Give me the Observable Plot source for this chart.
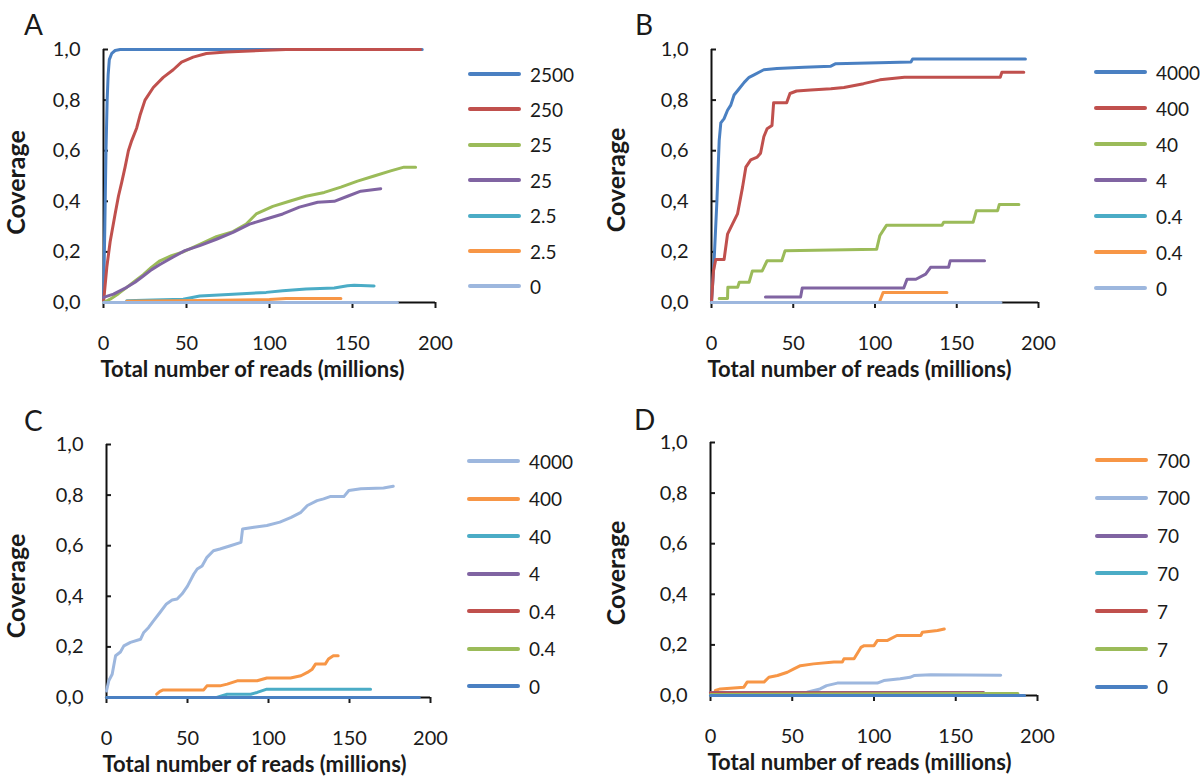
<!DOCTYPE html>
<html>
<head>
<meta charset="utf-8">
<script src="https://cdn.jsdelivr.net/npm/d3@7"></script>
<script src="https://cdn.jsdelivr.net/npm/@observablehq/plot@0.6"></script>
<style>
  html, body { margin: 0; padding: 0; background: #fff; }
  #root { position: relative; width: 1200px; height: 776px; background: #fff; font-family: Lato, "Open Sans", sans-serif; color: #1a1a1a; overflow: hidden; }
  .panel { position: absolute; }
  .letter { position: absolute; font-size: 28px; line-height: 1; color: #1a1a1a; }
  .leg { position: absolute; font-size: 19px; color: #1a1a1a; }
  .leg .row { position: absolute; display: flex; align-items: center; white-space: nowrap; }
  .leg .sw { width: 53px; height: 4px; border-radius: 2px; margin-right: 9px; }
</style>
</head>
<body>
<div id="root"></div>
<script>
// ---------- shared ticks / titles ----------
const xTicks = [0, 50, 100, 150, 200];
const yTicks = [0, 0.2, 0.4, 0.6, 0.8, 1.0];
const xTitle = "Total number of reads (millions)";
const yTitle = "Coverage";

// ---------- colours ----------
const cBlue = "#4a80c2", cRed = "#c0504d", cGreen = "#9bbb59", cPurple = "#8064a2",
      cCyan = "#4bacc6", cOrange = "#f79646", cLight = "#9db7de";

// ---------- Panel A ----------
const A_labels = ["2500", "250", "25", "25", "2.5", "2.5", "0"];
const A_colors = [cBlue, cRed, cGreen, cPurple, cCyan, cOrange, cLight];
const A_2500 = [[0,0],[0.8,0.3],[1.5,0.6],[2.2,0.8],[2.8,0.9],[3.5,0.96],[5,0.985],[7,0.996],[10,1],[192,1]];
const A_250 = [[0,0],[2,0.14],[4,0.24],[7,0.35],[9,0.42],[11,0.476],[13,0.535],[15,0.6],[17,0.64],[20,0.69],[22,0.74],[25,0.8],[30,0.85],[36,0.89],[42,0.92],[47,0.95],[54,0.97],[62,0.984],[74,0.99],[98,0.997],[110,1],[191,1]];
const A_25a = [[0,0],[4,0.013],[9,0.035],[14,0.06],[19,0.085],[24,0.11],[29,0.14],[34,0.165],[41,0.185],[48,0.2],[58,0.23],[68,0.26],[78,0.28],[86,0.31],[92,0.35],[97,0.365],[102,0.38],[112,0.4],[122,0.42],[133,0.435],[143,0.456],[153,0.48],[163,0.5],[173,0.52],[181,0.535],[188,0.535]];
const A_25b = [[0,0.02],[6,0.033],[14,0.06],[19,0.08],[24,0.105],[29,0.13],[34,0.15],[42,0.18],[49,0.205],[58,0.225],[68,0.25],[78,0.277],[88,0.31],[98,0.33],[108,0.35],[118,0.377],[129,0.396],[139,0.4],[147,0.42],[155,0.44],[167,0.45]];
const A_2_5a = [[14,0.007],[30,0.01],[48,0.013],[58,0.026],[78,0.033],[98,0.04],[108,0.046],[122,0.053],[139,0.057],[147,0.066],[151,0.068],[163,0.065]];
const A_2_5b = [[14,0.005],[60,0.008],[100,0.012],[110,0.016],[143,0.016]];
const A_0 = [[0,0],[177,0]];

// ---------- Panel B ----------
const B_labels = ["4000", "400", "40", "4", "0.4", "0.4", "0"];
const B_colors = [cBlue, cRed, cGreen, cPurple, cCyan, cOrange, cLight];
const B_4000 = [[0,0],[1.6,0.165],[3.3,0.4],[4.7,0.64],[5.7,0.71],[7.7,0.727],[9.8,0.76],[11.8,0.78],[13.8,0.82],[16.9,0.845],[20,0.87],[23,0.89],[26,0.9],[32,0.92],[40,0.925],[56.6,0.93],[73,0.934],[76,0.944],[122,0.951],[123,0.962],[192,0.962]];
const B_400 = [[0,0],[1.2,0.125],[2.6,0.17],[7.7,0.17],[9.8,0.27],[12.8,0.31],[15.9,0.35],[19,0.456],[21,0.535],[24,0.564],[28,0.575],[30,0.59],[32,0.655],[34,0.687],[37,0.7],[38,0.79],[46,0.79],[48,0.826],[52,0.836],[60.6,0.84],[73,0.845],[81,0.85],[93,0.865],[103,0.88],[118,0.89],[176.6,0.89],[177.6,0.91],[191,0.91]];
const B_40 = [[4.7,0.016],[9.8,0.016],[10,0.06],[16,0.06],[17,0.08],[23,0.08],[25,0.125],[31,0.125],[34,0.165],[43,0.165],[45,0.205],[101,0.21],[103,0.265],[107,0.305],[141,0.305],[142,0.317],[160,0.317],[162,0.363],[175,0.363],[176,0.387],[188,0.387]];
const B_4 = [[33,0.022],[54.5,0.022],[55.5,0.057],[117.6,0.057],[119.6,0.092],[125,0.092],[131,0.112],[134,0.139],[145,0.139],[146,0.165],[167,0.165]];
const B_0_4a = [[0,0],[163,0]];
const B_0_4b = [[103,0.007],[105,0.04],[144,0.04]];
const B_0 = [[0,0],[177,0]];

// ---------- Panel C ----------
const C_labels = ["4000", "400", "40", "4", "0.4", "0.4", "0"];
const C_colors = [cLight, cOrange, cCyan, cPurple, cRed, cGreen, cBlue];
const C_4000 = [[0,0.026],[1.4,0.066],[3.5,0.092],[5.6,0.165],[8.6,0.18],[10.7,0.204],[14.8,0.218],[21,0.23],[23,0.257],[26,0.277],[29,0.303],[33,0.336],[37,0.37],[40.5,0.385],[43.6,0.389],[46.7,0.41],[50,0.44],[53.9,0.488],[56,0.508],[59,0.52],[62,0.554],[66,0.58],[70,0.587],[76.5,0.6],[83,0.613],[84,0.666],[91,0.673],[99,0.68],[107,0.693],[114,0.712],[120,0.732],[124,0.759],[130,0.778],[134,0.785],[138,0.794],[146.5,0.794],[149.6,0.818],[157,0.825],[171,0.828],[177,0.835]];
const C_400 = [[31,0.013],[33,0.024],[35,0.03],[60,0.03],[62,0.046],[70,0.046],[74.5,0.053],[80.7,0.066],[93,0.066],[99,0.077],[113.6,0.077],[120,0.086],[124,0.099],[127,0.112],[129,0.132],[135,0.132],[137,0.152],[140,0.165],[143,0.165]];
const C_40 = [[0,0],[68,0],[74.5,0.013],[89,0.013],[93,0.02],[99,0.033],[163,0.033]];
const C_4 = [[0,0],[167,0]];
const C_0_4a = [[0,0],[192,0]];
const C_0_4b = [[0,0],[188,0]];
const C_0 = [[0,0],[193,0]];

// ---------- Panel D ----------
const D_labels = ["700", "700", "70", "70", "7", "7", "0"];
const D_colors = [cOrange, cLight, cPurple, cCyan, cRed, cGreen, cBlue];
const D_700a = [[3,0.02],[6,0.026],[20.4,0.033],[22.4,0.053],[32.7,0.053],[35.7,0.072],[41,0.079],[47,0.092],[51,0.105],[55,0.118],[63,0.125],[75.5,0.132],[80.6,0.132],[81.6,0.145],[87.8,0.145],[92,0.19],[94,0.197],[100,0.197],[102,0.217],[108,0.217],[114,0.237],[128.6,0.237],[129.6,0.25],[138.8,0.257],[143,0.263]];
const D_700b = [[51,0.007],[59,0.013],[67,0.026],[71,0.039],[77.6,0.049],[102,0.049],[106,0.059],[116,0.066],[122,0.072],[124.5,0.079],[134.7,0.082],[177.5,0.08]];
const D_70a = [[0,0.012],[167,0.012]];
const D_70b = [[14,0.006],[150,0.006]];
const D_7a = [[0,0.01],[167,0.01]];
const D_7b = [[0,0.004],[160,0.008],[188,0.008]];
const D_0 = [[0,0],[192,0]];

// ---------- panel layout (pixel frame of each chart) ----------
const panels = [
  {letter: "A", left: 0,   top: 0,   w: 480, h: 390, x0: 103, x200: 435, y1: 49,  y0: 302, tdx: -3, ydy: 6.5, labels: A_labels, colors: A_colors, series: [A_2500, A_250, A_25a, A_25b, A_2_5a, A_2_5b, A_0], lx: 24, ly: 10, legX: 468, legY: 74, legStep: 35.4},
  {letter: "B", left: 600, top: 0,   w: 480, h: 390, x0: 711, x200: 1038, y1: 49, y0: 302, tdx: -4, ydy: 4, labels: B_labels, colors: B_colors, series: [B_4000, B_400, B_40, B_4, B_0_4a, B_0_4b, B_0], lx: 635, ly: 10, legX: 1094, legY: 72, legStep: 36},
  {letter: "C", left: 0,   top: 390, w: 480, h: 386, x0: 106, x200: 430, y1: 444, y0: 697, tdx: -4, ydy: 15, labels: C_labels, colors: C_colors, series: [C_4000, C_400, C_40, C_4, C_0_4a, C_0_4b, C_0], lx: 24, ly: 406, legX: 467, legY: 461, legStep: 37.5},
  {letter: "D", left: 600, top: 390, w: 480, h: 386, x0: 710, x200: 1037, y1: 442, y0: 695, tdx: -3, ydy: 4, labels: D_labels, colors: D_colors, series: [D_700a, D_700b, D_70a, D_70b, D_7a, D_7b, D_0], lx: 634, ly: 405, legX: 1095, legY: 460, legStep: 37.8}
];

const root = document.getElementById("root");
const fmtY = d => d.toFixed(1).replace(".", ",");

for (const p of panels) {
  const marginLeft = p.x0 - p.left;
  const marginRight = p.w - (p.x200 - p.left);
  const marginTop = p.y1 - p.top;
  const marginBottom = p.h - (p.y0 - p.top);

  const lineMarks = p.series.map((s, i) => Plot.line(s, {
    x: d => d[0], y: d => d[1], stroke: p.colors[i], strokeWidth: 3,
    strokeLinejoin: "round", strokeLinecap: "round"
  }));

  const chart = Plot.plot({
    width: p.w, height: p.h,
    marginLeft, marginRight, marginTop, marginBottom,
    style: {fontFamily: "Lato, 'Open Sans', sans-serif", fontSize: "20px", color: "#1a1a1a", background: "transparent", overflow: "visible"},
    x: {domain: [0, 200]},
    y: {domain: [0, 1]},
    marks: [
      Plot.axisX(xTicks, {tickSize: 6, tickPadding: 27, strokeWidth: 2, label: null, tickFormat: d => String(d), fontSize: 20}),
      Plot.axisY(yTicks, {tickSize: -5, tickPadding: 28, strokeWidth: 2, label: null, tickFormat: fmtY, fontSize: 20}),
      Plot.ruleX([0], {stroke: "#111", strokeWidth: 2}),
      Plot.ruleY([0], {stroke: "#111", strokeWidth: 2}),
      ...lineMarks,
      Plot.text([xTitle], {frameAnchor: "bottom-left", textAnchor: "start", lineAnchor: "middle", dx: p.tdx, dy: 67, fontSize: 22, fontWeight: "bold", fill: "#1a1a1a"}),
      Plot.text([yTitle], {frameAnchor: "left", textAnchor: "middle", lineAnchor: "middle", rotate: -90, dx: -(marginLeft - 16), dy: p.ydy, fontSize: 25, fontWeight: "bold", fill: "#1a1a1a"})
    ]
  });
  chart.classList.add("panel");
  chart.style.left = p.left + "px";
  chart.style.top = p.top + "px";
  chart.style.position = "absolute";
  root.appendChild(chart);

  const L = document.createElement("div");
  L.className = "letter";
  L.style.left = p.lx + "px";
  L.style.top = p.ly + "px";
  L.textContent = p.letter;
  root.appendChild(L);

  const leg = document.createElement("div");
  leg.className = "leg";
  leg.style.left = p.legX + "px";
  leg.style.top = "0px";
  p.labels.forEach((lab, i) => {
    const row = document.createElement("div");
    row.className = "row";
    row.style.top = (p.legY + i * p.legStep - 12) + "px";
    row.style.height = "24px";
    const sw = document.createElement("div");
    sw.className = "sw";
    sw.style.background = p.colors[i];
    const t = document.createElement("span");
    t.textContent = lab;
    row.appendChild(sw);
    row.appendChild(t);
    leg.appendChild(row);
  });
  root.appendChild(leg);
}
</script>
</body>
</html>
